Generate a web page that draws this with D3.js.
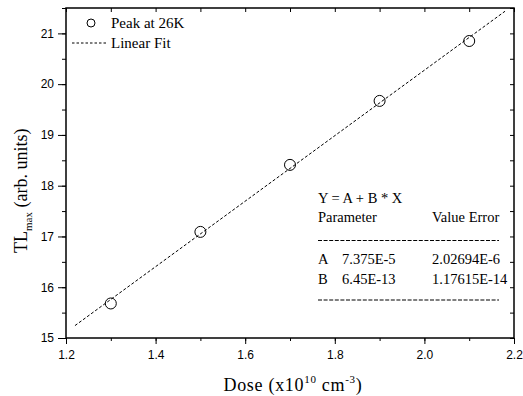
<!DOCTYPE html>
<html>
<head>
<meta charset="utf-8">
<script src="https://cdn.jsdelivr.net/npm/d3@7"></script>
<style>
  body { margin: 0; background: #fff; }
</style>
</head>
<body>
<div id="chart"></div>
<script>
// measured peak TL vs dose
const dose = [1.3, 1.5, 1.7, 1.9, 2.1];
const tlMax = [15.68, 17.09, 18.41, 19.67, 20.85];

// linear fit Y = A + B * X (in plotted units)
const fitA = 7.375;
const fitB = 6.45;
const fitRange = [1.22, 2.18];

const xTicks = [1.2, 1.4, 1.6, 1.8, 2.0, 2.2];
const yTicks = [15, 16, 17, 18, 19, 20, 21];

const tableRows = [
  ['A', '7.375E-5', '2.02694E-6'],
  ['B', '6.45E-13', '1.17615E-14'],
];

const SERIF = '"Liberation Serif", "Times New Roman", Times, serif';
const SANS = '"Liberation Sans", Arial, Helvetica, sans-serif';

const width = 523, height = 396;
const plotL = 66, plotR = 514, plotT = 8, plotB = 338;

const svg = d3.select('#chart').append('svg')
  .attr('width', width)
  .attr('height', height);

const x = d3.scaleLinear().domain([1.2, 2.2]).range([plotL, plotR]);
const y = d3.scaleLinear().domain([15, 21.5]).range([plotB, plotT]);

const xMinor = d3.range(12, 23).map(d => d / 10);
const yMinor = d3.range(30, 44).map(d => d / 2);

// bottom axis, ticks outward
svg.append('g')
  .attr('transform', 'translate(0,' + plotB + ')')
  .call(d3.axisBottom(x).tickValues(xMinor).tickSize(3).tickFormat(''))
  .call(g => g.select('.domain').remove());
svg.append('g')
  .attr('transform', 'translate(0,' + plotB + ')')
  .call(d3.axisBottom(x).tickValues(xTicks).tickSize(6).tickPadding(6).tickFormat(d3.format('.1f')))
  .call(g => g.select('.domain').remove());

// left axis, ticks outward
svg.append('g')
  .attr('transform', 'translate(' + plotL + ',0)')
  .call(d3.axisLeft(y).tickValues(yMinor).tickSize(4).tickFormat(''))
  .call(g => g.select('.domain').remove());
svg.append('g')
  .attr('transform', 'translate(' + plotL + ',0)')
  .call(d3.axisLeft(y).tickValues(yTicks).tickSize(8).tickPadding(4).tickFormat(d3.format('d')))
  .call(g => g.select('.domain').remove());

// top and right axes, ticks inward
svg.append('g')
  .attr('transform', 'translate(0,' + plotT + ')')
  .call(d3.axisTop(x).tickValues(xMinor).tickSize(-4).tickFormat(''))
  .call(g => g.select('.domain').remove());
svg.append('g')
  .attr('transform', 'translate(' + plotR + ',0)')
  .call(d3.axisRight(y).tickValues(yMinor).tickSize(-4).tickFormat(''))
  .call(g => g.select('.domain').remove());

svg.selectAll('.tick line').attr('stroke', '#000').attr('stroke-width', 1);
svg.selectAll('.tick text')
  .style('font-family', SANS)
  .style('font-size', '12px')
  .attr('fill', '#000');

// frame
svg.append('rect')
  .attr('x', plotL).attr('y', plotT)
  .attr('width', plotR - plotL).attr('height', plotB - plotT)
  .attr('fill', 'none')
  .attr('stroke', '#000')
  .attr('stroke-width', 1.5);

// fit line
const fitLine = d3.line()
  .x(d => x(d))
  .y(d => y(fitA + fitB * d));
svg.append('path')
  .datum(fitRange)
  .attr('d', fitLine)
  .attr('fill', 'none')
  .attr('stroke', '#000')
  .attr('stroke-width', 1)
  .attr('stroke-dasharray', '3,2');

// data points
svg.selectAll('.pt')
  .data(dose)
  .enter().append('circle')
  .attr('class', 'pt')
  .attr('cx', d => x(d))
  .attr('cy', (d, i) => y(tlMax[i]))
  .attr('r', 5.5)
  .attr('fill', 'none')
  .attr('stroke', '#000')
  .attr('stroke-width', 1);

// legend
svg.append('circle')
  .attr('cx', 91).attr('cy', 23).attr('r', 4)
  .attr('fill', 'none').attr('stroke', '#000').attr('stroke-width', 1);
svg.append('text')
  .style('font-family', SERIF).style('font-size', '15px')
  .attr('x', 111).attr('y', 28)
  .text('Peak at 26K');
svg.append('line')
  .attr('x1', 72).attr('x2', 107).attr('y1', 43).attr('y2', 43)
  .attr('stroke', '#000').attr('stroke-width', 1).attr('stroke-dasharray', '2.5,2');
svg.append('text')
  .style('font-family', SERIF).style('font-size', '15px')
  .attr('x', 111).attr('y', 48)
  .text('Linear Fit');

// fit table
const tbl = svg.append('g').style('font-family', SERIF).style('font-size', '14.5px');
tbl.append('text').attr('x', 318).attr('y', 203).text('Y = A + B * X');
tbl.append('text').attr('x', 318).attr('y', 222).text('Parameter');
tbl.append('text').attr('x', 432).attr('y', 222).text('Value Error');
[240.5, 300].forEach(yy => {
  tbl.append('line')
    .attr('x1', 318).attr('x2', 499).attr('y1', yy).attr('y2', yy)
    .attr('stroke', '#000').attr('stroke-width', 1).attr('stroke-dasharray', '4,1.6');
});
tableRows.forEach((r, i) => {
  const yy = 264 + i * 19.5;
  tbl.append('text').attr('x', 318).attr('y', yy).text(r[0]);
  tbl.append('text').attr('x', 342).attr('y', yy).text(r[1]);
  tbl.append('text').attr('x', 432).attr('y', yy).text(r[2]);
});

// axis titles
const xt = svg.append('text')
  .style('font-family', SERIF).style('font-size', '18px')
  .style('letter-spacing', '0.7px')
  .attr('x', 293).attr('y', 391)
  .attr('text-anchor', 'middle');
xt.append('tspan').text('Dose (x10');
xt.append('tspan').attr('dy', -8).style('font-size', '11px').text('10');
xt.append('tspan').attr('dy', 8).text(' cm');
xt.append('tspan').attr('dy', -8).style('font-size', '11px').text('-3');
xt.append('tspan').attr('dy', 8).text(')');

const yt = svg.append('text')
  .style('font-family', SERIF).style('font-size', '18px')
  .attr('transform', 'translate(27,253) rotate(-90)')
  .attr('text-anchor', 'start');
yt.append('tspan').text('TL');
yt.append('tspan').attr('dy', 5).style('font-size', '11px').text('max');
yt.append('tspan').attr('dy', -5).text(' (arb. units)');
</script>
</body>
</html>
